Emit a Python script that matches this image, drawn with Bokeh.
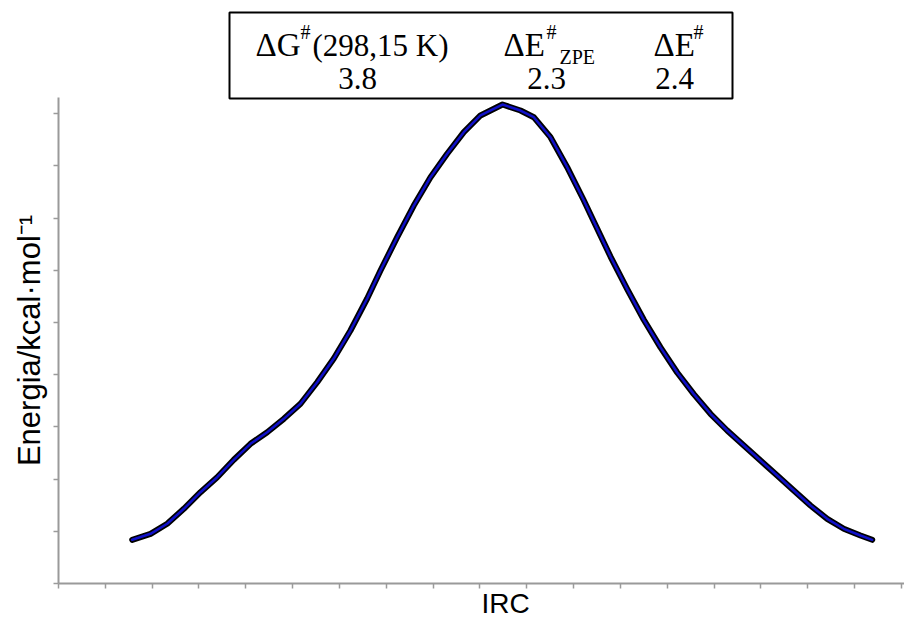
import math
from bokeh.plotting import figure
from bokeh.models import Label, BoxAnnotation, FixedTicker, Range1d
from bokeh.embed import file_html
from bokeh.resources import INLINE

# ---- data (IRC coordinate in tick units, energy in tick units) ----
irc = [1.574, 1.965, 2.321, 2.676, 3.032, 3.389, 3.743, 4.100, 4.457, 4.811,
       5.168, 5.524, 5.879, 6.235, 6.592, 6.876, 7.233, 7.587, 7.944, 8.300,
       8.655, 9.011, 9.481, 9.865, 10.149, 10.506, 10.862, 11.211, 11.431, 11.787,
       12.144, 12.498, 12.855, 13.211, 13.566, 13.922, 14.279, 14.634, 14.990, 15.347,
       15.701, 16.058, 16.415, 16.769, 17.126, 17.376]
energia = [0.837, 0.952, 1.144, 1.431, 1.749, 2.036, 2.370, 2.676, 2.898, 3.155,
           3.443, 3.856, 4.310, 4.847, 5.460, 5.996, 6.634, 7.241, 7.784, 8.232,
           8.646, 8.966, 9.176, 9.061, 8.933, 8.550, 7.975, 7.351, 6.935, 6.264,
           5.640, 5.052, 4.523, 4.042, 3.628, 3.251, 2.931, 2.644, 2.356, 2.069,
           1.782, 1.494, 1.239, 1.048, 0.920, 0.837]

x_ticks = list(range(0, 19))
y_ticks = list(range(0, 10))

header_main = ["\u0394G", "\u0394E", "\u0394E"]
header_sup = ["#", "#", "#"]
header_rest = ["(298,15 K)", "", ""]
header_sub = ["", "ZPE", ""]
values = ["3.8", "2.3", "2.4"]

x_label = "IRC"
y_label = "Energia/kcal\u00b7mol\u207b\u00b9"

# ---- layout helpers (pixels -> data) ----
X0, XS = 58.0, 46.83
Y0, YS = 583.0, 52.2
def fx(px):
    return (px - X0) / XS
def fy(py):
    return (Y0 - py) / YS
def base(py, size):
    # text drawn with a "middle" baseline: shift from the wanted alphabetic baseline
    return fy(py - 0.3 * size)

W, H = 904, 620
p = figure(width=W, height=H, output_backend="svg", toolbar_location=None,
           x_range=Range1d(fx(0), fx(W)), y_range=Range1d(fy(H), fy(0)),
           min_border_left=0, min_border_right=0, min_border_top=0, min_border_bottom=0)
p.outline_line_color = None
p.grid.visible = False
p.background_fill_color = "white"

axis_col = "#9a9a9a"
for ax, ticks in ((p.xaxis[0], x_ticks), (p.yaxis[0], y_ticks)):
    ax.ticker = FixedTicker(ticks=ticks)
    ax.axis_line_color = axis_col
    ax.axis_line_width = 2
    ax.major_tick_line_color = axis_col
    ax.major_tick_line_width = 1.5
    ax.major_tick_out = 5
    ax.major_tick_in = 0
    ax.minor_tick_line_color = None
    ax.major_label_overrides = {t: "" for t in ticks}
    ax.major_label_standoff = 0
    ax.fixed_location = 0

p.xaxis[0].bounds = (0, fx(W))
p.yaxis[0].bounds = (0, fy(97))

# curve
p.line(irc, energia, line_color="black", line_width=6, line_cap="round", line_join="round")
p.line(irc, energia, line_color="#1010c8", line_width=2.5, line_cap="round", line_join="round")

# axis titles
p.add_layout(Label(x=fx(505), y=base(611, 28), text=x_label, text_align="center",
                   text_baseline="middle", text_font="Liberation Sans",
                   text_font_size="28px", text_color="black"))
p.add_layout(Label(x=fx(29), y=fy(340), text=y_label, text_align="center",
                   text_baseline="middle", angle=math.pi / 2, text_font="Liberation Sans",
                   text_font_size="31px", text_color="black"))

# header box
p.add_layout(BoxAnnotation(left=fx(229), right=fx(732), top=fy(12), bottom=fy(98),
                           fill_color=None, fill_alpha=0, line_color="black",
                           line_alpha=1, line_width=2))

serif = "Liberation Serif"
main_x = [255, 503, 653]
sup_x = [300, 546, 693]
rest_x = [312, 0, 0]
sub_x = [0, 559, 0]
val_x = [357, 546, 674]
for i in range(3):
    p.add_layout(Label(x=fx(main_x[i]), y=base(54, 33), text=header_main[i], text_align="left",
                       text_baseline="middle", text_font=serif, text_font_size="33px",
                       text_color="black"))
    p.add_layout(Label(x=fx(sup_x[i]), y=base(37, 20), text=header_sup[i], text_align="left",
                       text_baseline="middle", text_font=serif, text_font_size="20px",
                       text_color="black"))
    if header_rest[i]:
        p.add_layout(Label(x=fx(rest_x[i]), y=base(54, 31), text=header_rest[i], text_align="left",
                           text_baseline="middle", text_font=serif, text_font_size="31px",
                           text_color="black"))
    if header_sub[i]:
        p.add_layout(Label(x=fx(sub_x[i]), y=base(62, 20), text=header_sub[i], text_align="left",
                           text_baseline="middle", text_font=serif, text_font_size="20px",
                           text_color="black"))
    p.add_layout(Label(x=fx(val_x[i]), y=base(87, 31), text=values[i], text_align="center",
                       text_baseline="middle", text_font=serif, text_font_size="31px",
                       text_color="black"))

open("out.html", "w").write(file_html(p, INLINE))
